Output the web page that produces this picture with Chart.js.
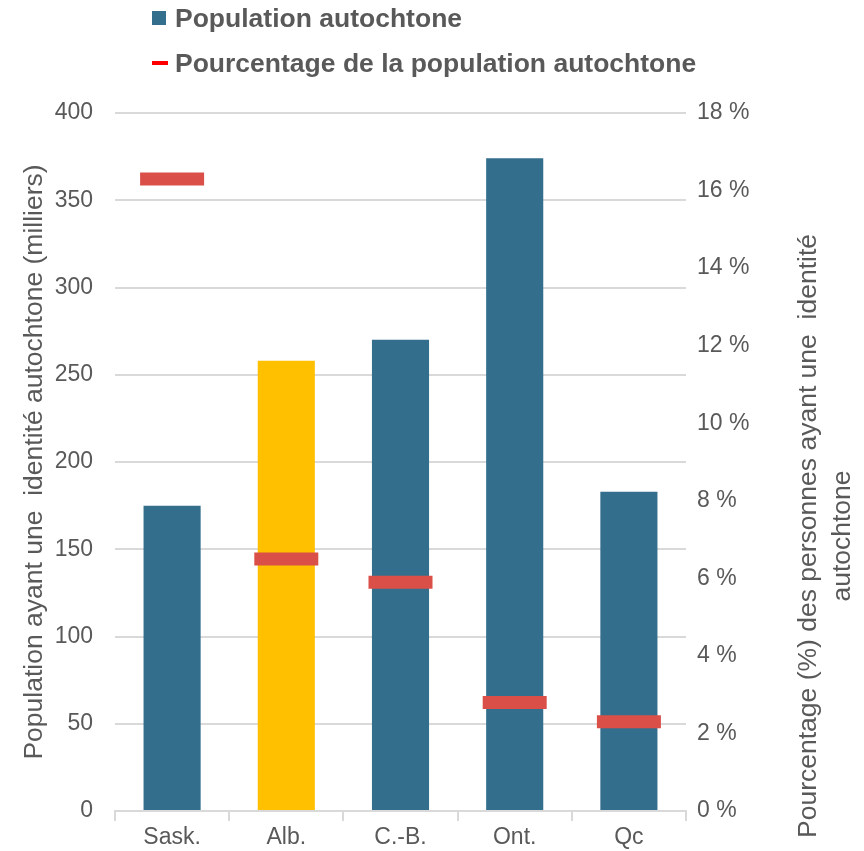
<!DOCTYPE html>
<html>
<head>
<meta charset="utf-8">
<script src="https://cdn.jsdelivr.net/npm/chart.js@4/dist/chart.umd.min.js"></script>
<style>
  body { margin: 0; background: #fff; font-family: "Liberation Sans", Arial, sans-serif; }
  #wrap { position: relative; width: 864px; height: 851px; }
  #legend { position: absolute; left: 152px; top: 2px; color: #595959; font-weight: bold; font-size: 26.5px; }
  .item { display: flex; align-items: center; height: 32px; margin-bottom: 13px; white-space: nowrap; }
  .swatch { width: 14px; height: 14px; background: #336E8C; margin-right: 9px; }
  .dash { width: 16px; height: 4px; background: #ff0000; margin-right: 7px; }
</style>
</head>
<body>
<div id="wrap">
  <canvas id="chart" width="864" height="851"></canvas>
  <div id="legend">
    <div class="item"><span class="swatch"></span>Population autochtone</div>
    <div class="item"><span class="dash"></span>Pourcentage de la population autochtone</div>
  </div>
</div>
<script>
const provinces = ["Sask.", "Alb.", "C.-B.", "Ont.", "Qc"];
const population = [175, 258, 270, 374, 183];        // milliers
const percentage = [16.3, 6.5, 5.9, 2.8, 2.3];       // %
const barColors = ["#336E8C", "#FFC000", "#336E8C", "#336E8C", "#336E8C"];

const grey = "#595959";
const gridGrey = "#d9d9d9";
const fontFamily = "'Liberation Sans', Arial, sans-serif";

// right axis title reads bottom-to-top, so draw it by hand
const rightTitle = {
  id: "rightTitle",
  afterDraw(chart) {
    const ctx = chart.ctx;
    ctx.save();
    ctx.fillStyle = grey;
    ctx.font = "26.5px " + fontFamily;
    ctx.textAlign = "center";
    ctx.textBaseline = "middle";
    ctx.translate(809, 536);
    ctx.rotate(-Math.PI / 2);
    ctx.fillText("Pourcentage (%) des personnes ayant une  identité", 0, 0);
    ctx.fillText("autochtone", 0, 34);
    ctx.restore();
  }
};

// keep the tick padding from pushing the plot area around
const noPad = s => { s.paddingTop = 0; s.paddingBottom = 0; };

new Chart(document.getElementById("chart"), {
  data: {
    labels: provinces,
    datasets: [
      {
        type: "line",
        label: "Pourcentage de la population autochtone",
        data: percentage,
        yAxisID: "y1",
        showLine: false,
        pointStyle: "line",
        pointRadius: 32,
        pointHoverRadius: 32,
        pointBorderWidth: 13,
        pointHoverBorderWidth: 13,
        borderColor: "#DA5049",
        backgroundColor: "#DA5049",
        order: 0
      },
      {
        type: "bar",
        label: "Population autochtone",
        data: population,
        yAxisID: "y",
        backgroundColor: barColors,
        categoryPercentage: 1,
        barPercentage: 0.5,
        order: 1
      }
    ]
  },
  options: {
    responsive: false,
    animation: false,
    layout: { autoPadding: false, padding: { top: 113, left: 0, right: 0, bottom: 0 } },
    plugins: {
      legend: { display: false },
      tooltip: { enabled: false }
    },
    scales: {
      x: {
        offset: true,
        grid: { display: true, drawOnChartArea: false, drawTicks: true, tickLength: 10, color: gridGrey, lineWidth: 2, offset: true },
        border: { display: true, color: gridGrey, width: 2 },
        ticks: { color: grey, font: { size: 23, family: fontFamily }, padding: 3 },
        afterFit: s => { s.height = 40; }
      },
      y: {
        position: "left",
        min: 0,
        max: 400,
        ticks: { stepSize: 50, color: grey, padding: 22, font: { size: 23, family: fontFamily } },
        grid: { color: gridGrey, lineWidth: 2, drawTicks: false },
        border: { display: false },
        title: {
          display: true,
          text: "Population ayant une  identité autochtone (milliers)",
          color: grey,
          font: { size: 26.5, family: fontFamily },
          padding: { top: 19, bottom: 0 }
        },
        afterFit: s => { s.width = 115; noPad(s); }
      },
      y1: {
        position: "right",
        min: 0,
        max: 18,
        ticks: { stepSize: 2, color: grey, padding: 11, font: { size: 23, family: fontFamily }, callback: v => v + " %" },
        grid: { display: false, drawTicks: false },
        border: { display: false },
        afterFit: s => { s.width = 178; noPad(s); }
      }
    }
  },
  plugins: [rightTitle]
});
</script>
</body>
</html>
